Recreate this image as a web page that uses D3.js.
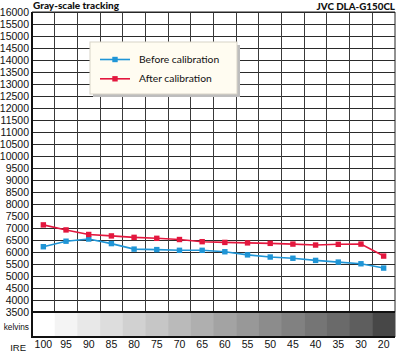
<!DOCTYPE html>
<html><head><meta charset="utf-8">
<script src="https://cdn.jsdelivr.net/npm/d3@7"></script>
<style>
html,body{margin:0;padding:0;background:#fff;}
svg{display:block;}
</style></head>
<body>
<script>
const ireLabels = ["100","95","90","85","80","75","70","65","60","55","50","45","40","35","30","20"];
const beforeCal = [6220,6450,6540,6350,6120,6100,6070,6070,6010,5880,5790,5740,5650,5580,5510,5330];
const afterCal  = [7130,6920,6730,6670,6610,6570,6520,6430,6400,6380,6360,6330,6290,6320,6330,5830];
const yTicks = d3.range(3500, 16001, 500);
const seriesNames = ["Before calibration","After calibration"];
const title = "Gray-scale tracking";
const subtitle = "JVC DLA-G150CL";

const W = 400, H = 353;
const L = 32, R = 395, T = 12, B = 312, stripB = 337;
const svg = d3.select("body").append("svg").attr("width", W).attr("height", H);

const x = d3.scaleBand().domain(ireLabels).range([L, R]).padding(0);
const y = d3.scaleLinear().domain([3500, 16000]).range([B, T]);
const gray = d3.scaleLinear().domain([100, 20]).range(["#ffffff", "#474747"]);
const colors = ["#1f95d6", "#e3173e"];

// Title
svg.append("text").attr("x", 33).attr("y", 8.5).text(title)
  .attr("font-family", "Lato, 'DejaVu Sans', sans-serif").attr("font-weight", 900).attr("font-size", 10).attr("fill", "#111");
svg.append("text").attr("x", 395).attr("y", 9.5).attr("text-anchor", "end").text(subtitle)
  .attr("font-family", "Lato, 'DejaVu Sans', sans-serif").attr("font-weight", 900).attr("font-size", 9.8).attr("fill", "#111");

// Gray strip
svg.append("g").selectAll("rect").data(ireLabels).join("rect")
  .attr("x", d => x(d)).attr("y", B).attr("width", x.bandwidth() + 0.5).attr("height", stripB - B)
  .attr("fill", d => gray(+d));

// Grid horizontal
const gridH = svg.append("g").attr("transform", `translate(${L},0)`)
  .call(d3.axisLeft(y).tickValues(yTicks).tickSize(-(R - L)).tickFormat(""));
gridH.select(".domain").remove();
gridH.selectAll("line").attr("stroke", "#2a2a2a").attr("stroke-width", 1).attr("shape-rendering", "crispEdges");

// Grid vertical (band boundaries)
const bounds = ireLabels.slice(1).map(d => x(d));
svg.append("g").selectAll("line").data(bounds).join("line")
  .attr("x1", d => d).attr("x2", d => d).attr("y1", T).attr("y2", B)
  .attr("stroke", "#3a3a3a").attr("stroke-width", 1).attr("shape-rendering", "crispEdges");

// Borders
svg.append("line").attr("x1", L).attr("x2", R).attr("y1", T).attr("y2", T).attr("stroke", "#222");
svg.append("line").attr("x1", R).attr("x2", R).attr("y1", T).attr("y2", B).attr("stroke", "#222");
svg.append("line").attr("x1", L).attr("x2", R).attr("y1", B).attr("y2", B).attr("stroke", "#111").attr("stroke-width", 2);
svg.append("line").attr("x1", L).attr("x2", R).attr("y1", stripB).attr("y2", stripB).attr("stroke", "#111").attr("stroke-width", 2.2);
svg.append("line").attr("x1", L).attr("x2", L).attr("y1", T).attr("y2", stripB + 1).attr("stroke", "#111").attr("stroke-width", 2);

// Y axis labels
const yAx = svg.append("g").attr("transform", `translate(${L - 3},0)`)
  .call(d3.axisLeft(y).tickValues(yTicks).tickSize(0).tickPadding(0).tickFormat(d3.format("d")));
yAx.select(".domain").remove();
yAx.selectAll("text").attr("font-family", "'Liberation Sans', Arial, sans-serif").attr("font-size", 10.5).attr("fill", "#111");

// X axis labels
const xAx = svg.append("g").attr("transform", `translate(0,${stripB})`)
  .call(d3.axisBottom(x).tickSize(0).tickPadding(4));
xAx.select(".domain").remove();
xAx.selectAll("text").attr("font-family", "'Liberation Sans', Arial, sans-serif").attr("font-size", 10.5).attr("fill", "#111");

svg.append("text").attr("x", 29).attr("y", 329.5).attr("text-anchor", "end").text("kelvins")
  .attr("font-family", "'Liberation Sans', Arial, sans-serif").attr("font-size", 8.3).attr("fill", "#111");
svg.append("text").attr("x", 26).attr("y", 350.5).attr("text-anchor", "end").text("IRE")
  .attr("font-family", "'Liberation Sans', Arial, sans-serif").attr("font-size", 9.5).attr("fill", "#111");

// Series
const series = [beforeCal, afterCal];
const cx = d => x(d) + x.bandwidth() / 2;
series.forEach((vals, i) => {
  const pts = ireLabels.map((d, j) => [cx(d), y(vals[j])]);
  svg.append("path").attr("d", d3.line()(pts)).attr("fill", "none")
    .attr("stroke", colors[i]).attr("stroke-width", 1.6);
  svg.append("g").selectAll("rect").data(pts).join("rect")
    .attr("x", p => p[0] - 2.7).attr("y", p => p[1] - 2.7).attr("width", 5.4).attr("height", 5.4)
    .attr("fill", colors[i]);
});

// Legend
const lg = svg.append("g");
lg.append("rect").attr("x", 93).attr("y", 45).attr("width", 147).attr("height", 52).attr("fill", "#bdbdbd");
lg.append("rect").attr("x", 90).attr("y", 42).attr("width", 147).attr("height", 52)
  .attr("fill", "#fffcf1").attr("stroke", "#d8d4c8").attr("stroke-width", 1);
seriesNames.forEach((n, i) => {
  const ly = 59.5 + i * 19.3;
  lg.append("line").attr("x1", 100).attr("x2", 130).attr("y1", ly).attr("y2", ly)
    .attr("stroke", colors[i]).attr("stroke-width", 1.6);
  lg.append("rect").attr("x", 112.3).attr("y", ly - 2.7).attr("width", 5.4).attr("height", 5.4).attr("fill", colors[i]);
  lg.append("text").attr("x", 139).attr("y", ly + 3.6).text(n)
    .attr("font-family", "Lato, 'DejaVu Sans', sans-serif").attr("font-size", 10.3).attr("fill", "#111");
});
</script>
</body></html>
